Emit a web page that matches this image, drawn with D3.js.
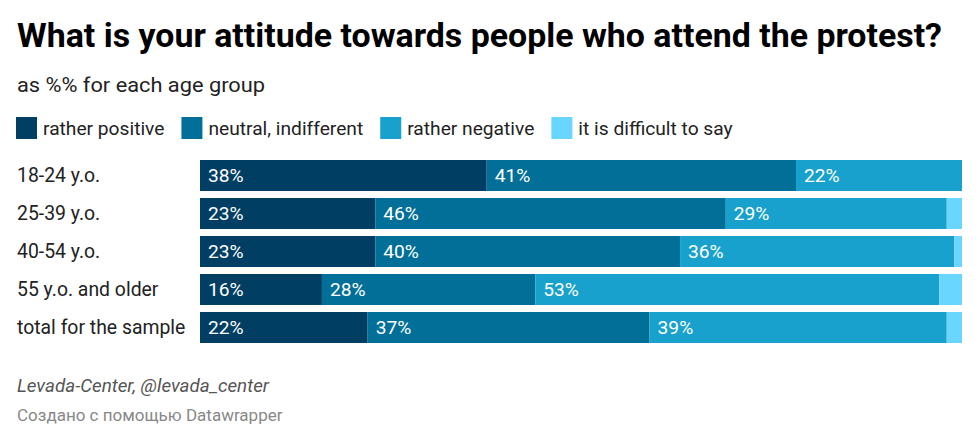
<!DOCTYPE html>
<html>
<head>
<meta charset="utf-8">
<script src="https://cdn.jsdelivr.net/npm/d3@7"></script>
<style>
  body { margin: 0; background: #fff; }
  svg { display: block; font-family: Roboto, "Noto Sans", sans-serif; }
</style>
</head>
<body>
<div id="chart"></div>
<script>
"use strict";

// data
var categories = ["18-24 y.o.", "25-39 y.o.", "40-54 y.o.", "55 y.o. and older", "total for the sample"];
var seriesNames = ["rather positive", "neutral, indifferent", "rather negative", "it is difficult to say"];
var ratherPositive = [38, 23, 23, 16, 22];
var neutralIndifferent = [41, 46, 40, 28, 37];
var ratherNegative = [22, 29, 36, 53, 39];
var difficultToSay = [0, 2, 1, 3, 2];

(function() {
  var width = 980, height = 441;
  var colors = ["#013e63", "#026f98", "#19a1cd", "#68d6ff"];
  var seriesValues = [ratherPositive, neutralIndifferent, ratherNegative, difficultToSay];
  var svg, rows, stacked, x, y, color, legend, lx, layer;

  svg = d3.select("#chart").append("svg")
    .attr("width", width)
    .attr("height", height);

  // header
  svg.append("text")
    .attr("x", 17).attr("y", 47)
    .attr("font-size", 34).attr("font-weight", 700)
    .attr("fill", "#000")
    .attr("textLength", 925).attr("lengthAdjust", "spacingAndGlyphs")
    .text("What is your attitude towards people who attend the protest?");

  svg.append("text")
    .attr("x", 17).attr("y", 92)
    .attr("font-size", 20)
    .attr("fill", "#222")
    .attr("textLength", 248).attr("lengthAdjust", "spacingAndGlyphs")
    .text("as %% for each age group");

  // table for the stack
  rows = categories.map(function(c, i) {
    var r = {category: c};
    seriesNames.forEach(function(s, j) { r[s] = seriesValues[j][i]; });
    return r;
  });

  stacked = d3.stack()
    .keys(seriesNames)
    .offset(d3.stackOffsetExpand)(rows);

  x = d3.scaleLinear().domain([0, 1]).range([200, 962]);
  y = d3.scaleBand().domain(categories).range([160, 343]).paddingInner(0.184).paddingOuter(0);
  color = d3.scaleOrdinal().domain(seriesNames).range(colors);

  // legend
  legend = svg.append("g").attr("class", "legend");
  lx = 16;
  seriesNames.forEach(function(s) {
    var item, label;
    item = legend.append("g").attr("transform", "translate(" + lx + ",117)");
    item.append("rect")
      .attr("width", 21).attr("height", 22)
      .attr("fill", color(s));
    label = item.append("text")
      .attr("x", 27).attr("y", 18)
      .attr("font-size", 19.2)
      .attr("fill", "#222")
      .text(s);
    lx += 27 + label.node().getComputedTextLength() + 17;
  });

  // row labels
  svg.append("g").selectAll("text")
    .data(categories)
    .enter()
    .append("text")
    .attr("x", 17)
    .attr("y", function(d) { return y(d) + y.bandwidth() / 2; })
    .attr("dy", "0.35em")
    .attr("font-size", 19.4)
    .attr("fill", "#222")
    .text(function(d) { return d; });

  // bars
  layer = svg.append("g").selectAll("g")
    .data(stacked)
    .enter()
    .append("g")
    .attr("fill", function(d) { return color(d.key); });

  layer.selectAll("rect")
    .data(function(d) { return d; })
    .enter()
    .append("rect")
    .attr("x", function(d) { return x(d[0]); })
    .attr("y", function(d) { return y(d.data.category); })
    .attr("width", function(d) { return Math.max(0, x(d[1]) - x(d[0])); })
    .attr("height", y.bandwidth());

  // value labels, only where the segment is wide enough
  layer.selectAll("text")
    .data(function(d) {
      return d.map(function(p) { return {p: p, key: d.key}; });
    })
    .enter()
    .filter(function(d) { return x(d.p[1]) - x(d.p[0]) > 45; })
    .append("text")
    .attr("x", function(d) { return x(d.p[0]) + 8; })
    .attr("y", function(d) { return y(d.p.data.category) + y.bandwidth() / 2; })
    .attr("dy", "0.35em")
    .attr("font-size", 19.2)
    .attr("fill", "#fff")
    .text(function(d) { return d.p.data[d.key] + "%"; });

  // footer
  svg.append("text")
    .attr("x", 17).attr("y", 392)
    .attr("font-size", 18.8).attr("font-style", "italic")
    .attr("fill", "#555")
    .text("Levada-Center, @levada_center");

  svg.append("text")
    .attr("x", 17).attr("y", 421)
    .attr("font-size", 17)
    .attr("fill", "#888")
    .text("Создано с помощью Datawrapper");
})();
</script>
</body>
</html>
